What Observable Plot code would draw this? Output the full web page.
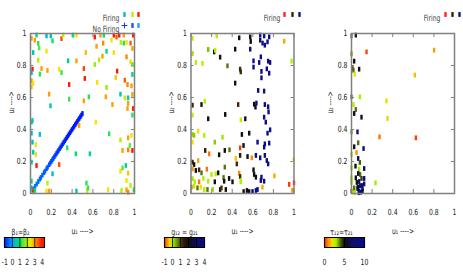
<!DOCTYPE html>
<html><head><meta charset="utf-8">
<script src="https://cdn.jsdelivr.net/npm/d3@7"></script>
<script src="https://cdn.jsdelivr.net/npm/@observablehq/plot@0.6"></script>
<style>
body{margin:0;background:#fff;}
#wrap{position:relative;width:463px;height:273px;overflow:hidden;background:#fff;}
#wrap > div{position:absolute;}
</style></head><body><div id="wrap"></div>
<script>
// ---------- data ----------
const axisTicks = [0, 0.2, 0.4, 0.6, 0.8, 1];

// Panel 1 : firing points (u1, u2, beta)
const p1U1 = [0.01,0.058,0.042,0.154,0.195,0.212,0.298,0.314,0.41,0.442,0.618,0.673,0.699,0.705,0.779,0.801,0.827,0.853,0.897,0.868,0.897,0.923,0.962,0.987,0.98,0.074,0.083,0.026,0.154,0.635,0.731,0.801,0.923,0.692,0.66,0.532,0.442,0.362,0.618,0.962,0.98,0.074,0.019,0.106,0.01,0.09,0.163,0.276,0.298,0.513,0.833,0.82,0.98,0.01,0.026,0.01,0.522,0.372,0.641,0.907,0.933,0.971,0.731,0.179,0.372,0.561,0.724,0.513,0.865,0.907,0.939,0.98,0.192,0.788,0.939,0.987,0.933,
  0.98,0.468,0.628,0.01,0.019,0.01,0.09,0.756,0.939,0.971,0.865,0.019,0.051,0.026,0.051,0.353,0.436,0.571,0.885,0.939,0.98,0.955,0.01,0.058,0.276,0.212,0.917,0.865,0.885,0.939,0.01,0.163,0.538,0.923,0.962,0.026,0.01,0.042,0.154,0.179,0.442,0.545,0.554,0.747,0.875,0.923,0.994,0.939];
const p1U2 = [0.97,0.99,0.958,0.985,0.985,0.954,0.968,0.99,0.99,0.99,0.978,0.99,0.94,0.99,0.958,0.99,0.978,0.99,0.99,0.944,0.94,0.944,0.94,0.99,0.906,0.938,0.91,0.881,0.89,0.92,0.889,0.881,0.854,0.858,0.835,0.881,0.829,0.829,0.806,0.823,0.806,0.833,0.777,0.781,0.756,0.746,0.769,0.777,0.756,0.781,0.765,0.725,0.744,0.704,0.69,0.667,0.719,0.681,0.694,0.708,0.681,0.673,0.663,0.621,0.59,0.604,0.604,0.579,0.621,0.598,0.598,0.619,0.548,0.556,0.563,0.531,0.531,
  0.49,0.425,0.446,0.446,0.456,0.377,0.369,0.373,0.348,0.363,0.335,0.321,0.306,0.258,0.244,0.285,0.248,0.248,0.269,0.273,0.269,0.3,0.196,0.175,0.181,0.123,0.175,0.14,0.16,0.127,0.077,0.065,0.065,0.081,0.05,0.023,0.035,0.019,0.015,0.015,0.015,0.019,0.035,0.023,0.019,0.023,0.023,0.008];
const p1Beta = [3,0.8,3,0.2,0.5,1,3.6,2,1,2.5,4,3,3.2,1,2.5,4,3.5,4,3,2,1.2,2.5,3.5,4,3,1.2,1.5,0.5,2.5,3,1,2.5,3.2,3,2,2.8,3,0.7,1.8,2.5,1.5,2,4,3,0.3,1.2,3,2.5,1.3,3.7,4,2.7,0.8,3,2.5,2.7,4,4,2.5,3.5,3.2,3,1.8,3,1.3,1.2,3,3,0.5,2,0.7,3,0.6,3,3,4,3,
  1.2,3,2.5,0.8,0.6,0.3,0.5,1.2,3,2.5,2,0.3,2.5,0.6,2.3,1.2,1,0.6,3,3.2,4,1.5,0.5,4,3.6,0.4,0.7,2.5,1.5,2.7,1,2,1.2,2.5,2,4,0.3,1,2.5,3,0.5,2,1.3,2.5,2,3,1,3.2];

// Panel 1 : non-firing points on the diagonal (u1 = u2, beta)
const nfU = [0.02,0.03,0.045,0.06,0.075,0.09,0.1,0.115,0.13,0.14,0.155,0.165,0.18,0.19,0.2,0.21,0.22,0.23,0.24,0.25,0.26,0.27,0.28,0.29,0.3,0.31,0.32,0.33,0.34,0.35,0.36,0.37,0.38,0.39,0.4,0.41,0.42,0.43,0.44,0.45,0.46,0.47,0.48,0.49,0.5];
const nfBeta = [-0.3,-0.3,-0.35,-0.35,-0.4,-0.4,-0.45,-0.45,-0.5,-0.5,-0.55,-0.55,-0.6,-0.6,-0.65,-0.65,-0.7,-0.7,-0.75,-0.75,-0.8,-0.8,-0.85,-0.85,-0.9,-0.9,-0.9,-0.95,-0.95,-0.95,-1,-1,-1,-1,-1,-1,-1,-1,-1,-1,-1,-1,-1,-1,-1];

// Panel 2 : (u1, u2, g)
const p2U1 = [0.015,0.25,0.468,0.575,0.58,0.672,0.71,0.759,0.743,0.717,0.695,0.672,0.905,0.015,0.167,0.225,0.235,0.283,0.047,0.112,0.429,0.575,0.678,0.607,0.662,0.749,0.768,0.976,0.354,0.477,0.483,0.607,0.684,0.736,0.759,0.684,0.429,0.652,0.71,0.015,0.102,0.134,0.458,0.613,0.626,0.635,0.717,0.749,0.753,
  0.015,0.167,0.332,0.484,0.527,0.71,0.726,0.015,0.03,0.07,0.128,0.015,0.494,0.565,0.768,0.743,0.231,0.306,0.646,0.717,0.759,0.71,0.138,0.176,0.273,0.328,0.374,0.477,0.51,0.477,0.549,0.59,0.63,0.672,0.717,0.736,0.749,0.015,0.03,0.07,0.435,0.445,0.015,0.047,0.079,0.102,0.154,0.199,0.24,0.264,0.328,0.468,0.477,0.484,0.607,0.613,0.63,0.684,0.678,0.71,0.81,0.998,0.015,0.037,0.079,0.12,0.167,0.231,0.316,0.322,0.37,0.403,0.484,0.005,0.03,0.063,0.095,0.128,0.16,0.21,0.283,0.296,0.338,0.511,0.543,0.565,0.597,0.63,0.646,0.694,0.953,1.0,0.985];
const p2U2 = [0.97,0.985,0.973,0.979,0.95,0.99,0.985,0.979,0.948,0.927,0.94,0.958,0.952,0.875,0.9,0.885,0.895,0.852,0.819,0.813,0.902,0.902,0.854,0.829,0.819,0.827,0.819,0.827,0.798,0.777,0.76,0.79,0.763,0.779,0.752,0.723,0.69,0.644,0.64,0.552,0.556,0.577,0.556,0.558,0.54,0.565,0.556,0.542,0.51,
  0.49,0.467,0.494,0.46,0.467,0.477,0.446,0.369,0.363,0.39,0.363,0.321,0.369,0.377,0.398,0.377,0.321,0.352,0.321,0.31,0.315,0.29,0.269,0.248,0.242,0.269,0.273,0.285,0.3,0.238,0.231,0.223,0.238,0.223,0.238,0.206,0.185,0.196,0.181,0.206,0.219,0.185,0.154,0.144,0.148,0.129,0.152,0.119,0.123,0.129,0.165,0.127,0.106,0.081,0.148,0.119,0.102,0.102,0.081,0.077,0.11,0.21,0.092,0.073,0.073,0.094,0.077,0.073,0.1,0.077,0.094,0.073,0.073,0.04,0.046,0.035,0.04,0.025,0.025,0.025,0.025,0.035,0.025,0.012,0.019,0.012,0.012,0.019,0.025,0.04,0.057,0.067,0.02];
const p2G = [-0.1,0,2,2,2,3.8,4,3.8,3.8,3.8,3.8,3.8,-0.5,0.1,0.4,2,0,2,0,0,2,3.5,3.8,3.8,3.8,3.8,3.8,0,0.8,1.3,1.3,3.8,3.8,3.8,3.8,3.8,2,3.8,3.8,1.3,1.8,0,1.3,2,2,3.8,3.8,3.8,3.8,
  -0.1,2,2,-0.1,2,3.8,3.8,0.2,0.3,-0.3,0,-0.3,2,2,3.8,3.8,0.3,0.1,3.8,3.8,3.8,3.8,1.5,-0.7,2,2,0.8,-0.9,2,1.5,2,-0.6,3.8,3.8,3.8,3.8,3.8,1.3,2,-0.5,-0.4,1.3,-0.6,2,1.3,0.8,-0.7,0,0,2,0.8,-0.6,1.3,0,2,2,2,3.8,3.8,3.8,-0.5,0,0.1,0,-0.7,0,0,2,0.8,2,2,2,0,-0.7,0,0.8,-0.3,0,0.8,0.2,2,1.2,2,2,2,2,3.8,3.8,3.8,-0.5,-0.9,-1,-0.6];

// Panel 3 : (u1, u2, tau)
const p3U1 = [0.0,0.042,0.146,0.802,0.0,0.026,0.01,0.019,0.074,0.032,0.615,0.0,0.081,0.019,0.34,0.042,0.026,0.097,0.35,0.0,0.058,0.272,0.625,0.065,0.026,0.117,0.049,0.0,0.065,0.081,0.0,0.039,0.074,0.123,0.084,0.065,0.042,0.0,0.097,0.123,0.0,0.052,0.074,0.123,0.233,0.084,0.058,0.107,0.0,0.019,0.032,0.074,0.09,0.062,0.107,0.026,0.1,0.07];
const p3U2 = [0.985,0.99,0.885,0.896,0.873,0.827,0.781,0.77,0.777,0.746,0.74,0.604,0.604,0.556,0.579,0.525,0.5,0.477,0.469,0.385,0.385,0.354,0.348,0.317,0.292,0.281,0.256,0.244,0.219,0.194,0.16,0.171,0.152,0.156,0.119,0.125,0.098,0.098,0.094,0.094,0.069,0.069,0.075,0.06,0.066,0.048,0.031,0.031,0.015,0.01,0.006,0.015,0.008,0.04,0.015,0.035,0.05,0.005];
const p3Tau = [3.8,6,0.4,1.2,3.5,5,4.3,4,5.5,2.2,1.6,3.8,3,2.6,2.2,4,5,6,1.8,3.5,7,0.8,0.3,4,5,7,1,3,7.5,4.2,3,5,3,7,4,6,5,3,4.5,7,3,5,7,7,3,8,8,8,0.5,3,3,8,8,5,6,4,8,8];

// colour maps
const c1Domain = [-1, 0, 1, 2, 2.5, 3, 4];
const c1Range = ["#0018ff","#00a8ff","#00e070","#b8f000","#f4e400","#ffa000","#ff1800"];
const c2Domain = [-1,-0.6,-0.3,0,0.5,0.9,1.4,2,3,4];
const c2Range = ["#ff2000","#ff8c00","#f0e000","#b0f000","#70b000","#5a5a10","#3a1a08","#101010","#101060","#0c0c90"];
const c3Domain = [0,0.5,1,2,3,4,5,7,10];
const c3Range = ["#ff2000","#ff5000","#ff9000","#f0e000","#a0f000","#5a6a10","#101010","#101068","#0c0c90"];

const bar1Ticks = [-1,0,1,2,3,4];
const bar2Ticks = [-1,0,1,2,3,4];
const bar3Ticks = [0,5,10];

// ---------- drawing ----------
const FONT = '"Liberation Sans Narrow","DejaVu Sans Condensed","Liberation Sans",sans-serif';
const TEXT = "#222";
const GRID = "#808080";
const rectSym = {draw(ctx){ctx.moveTo(-1.2,-2.4);ctx.lineTo(1.2,-2.4);ctx.lineTo(1.2,2.4);ctx.lineTo(-1.2,2.4);ctx.closePath();}};

const zip3 = (a,b,c) => a.map((v,i)=>({u1:v,u2:b[i],c:c[i]}));
const p1 = zip3(p1U1,p1U2,p1Beta);
const nf = nfU.map((v,i)=>({u1:v,u2:v,c:nfBeta[i]}));
const p2 = zip3(p2U1,p2U2,p2G);
const p3 = zip3(p3U1,p3U2,p3Tau);

function legendMarks(rows){
  const out = [];
  for (const r of rows){
    out.push(Plot.text([r.label], {text:d=>d, frameAnchor:"top-right", dx:r.dx, dy:r.dy, textAnchor:"end", fill:"#444"}));
    for (const m of r.marks){
      if (m.plus) out.push(Plot.dot([0], {frameAnchor:"top-right", dx:m.dx, dy:r.dy, symbol:"plus", r:2, stroke:m.color, strokeWidth:1}));
      else out.push(Plot.dot([0], {frameAnchor:"top-right", dx:m.dx, dy:r.dy, symbol:rectSym, fill:m.color}));
    }
  }
  return out;
}

function mainPanel(cfg){
  return Plot.plot({
    width: cfg.width, height: 240,
    marginLeft: cfg.ml, marginRight: cfg.mr, marginTop: 33, marginBottom: 47,
    x: {domain:[0,1]}, y: {domain:[0,1]},
    color: {type:"linear", domain: cfg.cd, range: cfg.cr, clamp:true},
    style: {fontFamily: FONT, fontSize: "8.5px", color: TEXT, background: "transparent", overflow:"visible"},
    marks: [
      Plot.axisX(axisTicks, {tickSize:0, tickPadding:15, tickFormat:d=>String(d), label:null}),
      Plot.axisY(axisTicks, {tickSize:0, tickPadding:4, tickFormat:d=>String(d), label:null}),
      Plot.ruleX(axisTicks, {x:d=>d, y1:0, y2:0.025, stroke:GRID}),
      Plot.ruleX(axisTicks, {x:d=>d, y1:1, y2:0.975, stroke:GRID}),
      Plot.ruleY(axisTicks, {y:d=>d, x1:0, x2:0.03, stroke:GRID}),
      Plot.ruleY(axisTicks, {y:d=>d, x1:1, x2:0.97, stroke:GRID}),
      ...cfg.series.map(s => Plot.dot(s, {x:"u1", y:"u2", fill:"c", symbol:rectSym})),
      Plot.frame({stroke:GRID, strokeWidth:1.5}),
      Plot.text(["u\u2081 ---->"], {text:d=>d, frameAnchor:"bottom", dy:40}),
      Plot.text(["u\u2082 ---->"], {text:d=>d, frameAnchor:"left", dx:cfg.ydx, rotate:-90}),
      ...legendMarks(cfg.legend)
    ]
  });
}

function colorBar(cfg){
  return Plot.plot({
    width: 62, height: 58, marginLeft: cfg.ml, marginRight: 62 - cfg.ml - 40, marginTop: 22, marginBottom: 26,
    x: {domain: cfg.xd},
    color: {type:"linear", domain: cfg.cd, range: cfg.cr, clamp:true},
    style: {fontFamily: FONT, fontSize: "8.5px", color: TEXT, background: "transparent", overflow:"visible"},
    marks: [
      Plot.ruleX(d3.range(cfg.xd[0], cfg.xd[1] + 1e-9, (cfg.xd[1]-cfg.xd[0])/80), {x:d=>d, stroke:d=>d, strokeWidth:1.2}),
      Plot.ruleX(cfg.ticks.slice(1,-1), {x:d=>d, stroke:"#000", strokeWidth:0.8}),
      Plot.frame({stroke:"#000"}),
      Plot.axisX(cfg.ticks, {tickSize:0, tickPadding:11, tickFormat:d=>String(d), label:null}),
      Plot.text([cfg.title], {text:d=>d, frameAnchor:"top", dy:-9, dx:cfg.tdx})
    ]
  });
}

const wrap = document.getElementById("wrap");
function place(node, left, top){
  const d = document.createElement("div");
  d.style.left = left + "px"; d.style.top = top + "px";
  d.appendChild(node); wrap.appendChild(d);
}

place(mainPanel({width:150, ml:30, mr:16, ydx:-19, cd:c1Domain, cr:c1Range, series:[nf, p1],
  legend:[
    {label:"Firing", dx:-15, dy:-19, marks:[{dx:-10,color:"#10b0e0"},{dx:-2,color:"#c8e800"},{dx:4,color:"#ff1800"}]},
    {label:"No Firing", dx:-15, dy:-8, marks:[{dx:-10,color:"#1030ff",plus:true},{dx:-2,color:"#1850ff"},{dx:4,color:"#20a0ff"}]}
  ]}), 0, 0);
place(mainPanel({width:155, ml:35.5, mr:16.5, ydx:-19.5, cd:c2Domain, cr:c2Range, series:[p2],
  legend:[
    {label:"Firing", dx:-13.5, dy:-19, marks:[{dx:-9.5,color:"#ff2020"},{dx:-1.5,color:"#3a1a08"},{dx:5.5,color:"#101080"}]}
  ]}), 155, 0);
place(mainPanel({width:153, ml:41, mr:9, ydx:-21, cd:c3Domain, cr:c3Range, series:[p3],
  legend:[
    {label:"Firing", dx:-14, dy:-19, marks:[{dx:-9,color:"#ff2020"},{dx:-2,color:"#3a1a08"},{dx:5,color:"#101080"}]}
  ]}), 310, 0);

place(colorBar({ml:4, xd:[-1.05,4.3], cd:c1Domain, cr:c1Range, ticks:bar1Ticks, title:"\u03b2\u2081=\u03b2\u2082", tdx:-4}), 0, 215);
place(colorBar({ml:9, xd:[-1,4], cd:c2Domain, cr:c2Range, ticks:bar2Ticks, title:"g\u2081\u2082 = g\u2082\u2081", tdx:0}), 155, 215);
place(colorBar({ml:9, xd:[0,10], cd:c3Domain, cr:c3Range, ticks:bar3Ticks, title:"\u03c4\u2081\u2082=\u03c4\u2082\u2081", tdx:-3}), 315, 215);

// condense the lettering horizontally (the reference uses a narrow face);
// the scale is appended after each text's own placement, so anchors stay put
wrap.querySelectorAll("text").forEach(el => {
  const t = el.getAttribute("transform");
  if (t) el.setAttribute("transform", `${t} scale(0.8,1)`);
});
</script></body></html>
